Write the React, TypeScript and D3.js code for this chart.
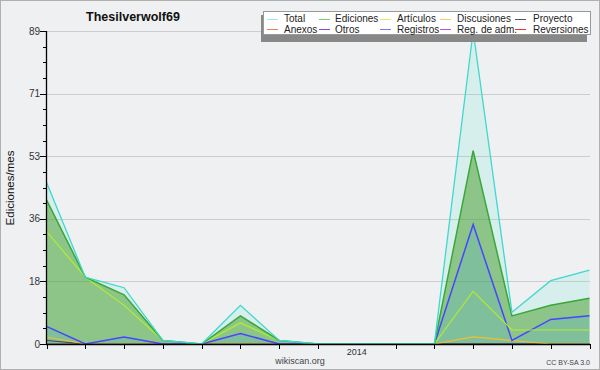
import React from "react";
import * as d3 from "d3";

const months = [
  "2013-05", "2013-06", "2013-07", "2013-08", "2013-09", "2013-10", "2013-11", "2013-12",
  "2014-01", "2014-02", "2014-03", "2014-04", "2014-05", "2014-06", "2014-07",
];
const total = [46, 19, 16, 1, 0, 11, 1, 0, 0, 0, 0, 89, 9, 18, 21];
const ediciones = [41, 19, 14, 1, 0, 8, 1, 0, 0, 0, 0, 55, 8, 11, 13];
const articulos = [32, 19, 11, 1, 0, 6, 1, 0, 0, 0, 0, 15, 4, 4, 4];
const discusiones = [2, 0, 0, 0, 0, 0, 0, 0, 0, 0, 0, 2, 1, 0, 0];
const proyecto = [1, 0, 0, 0, 0, 0, 0, 0, 0, 0, 0, 0, 0, 0, 0];
const anexos = [0, 0, 0, 0, 0, 0, 0, 0, 0, 0, 0, 0, 0, 0, 0];
const otros = [0, 0, 0, 0, 0, 0, 0, 0, 0, 0, 0, 0, 0, 0, 0];
const registros = [5, 0, 2, 0, 0, 3, 0, 0, 0, 0, 0, 34, 1, 7, 8];
const regAdm = [0, 0, 0, 0, 0, 0, 0, 0, 0, 0, 0, 0, 0, 0, 0];
const reversiones = [0, 0, 0, 0, 0, 0, 0, 0, 0, 0, 0, 0, 0, 0, 0];

const yMax = 89;
const yearLabel = "2014";
const yearIndex = 8;

const legendRow1 = [
  { name: "Total", color: "#a6e9e2" },
  { name: "Ediciones", color: "#80c880" },
  { name: "Artículos", color: "#d2f06a" },
  { name: "Discusiones", color: "#f7cb66" },
  { name: "Proyecto", color: "#555555" },
];
const legendRow2 = [
  { name: "Anexos", color: "#f08048" },
  { name: "Otros", color: "#9040e0" },
  { name: "Registros", color: "#7878ff" },
  { name: "Reg. de adm.", color: "#c848ec" },
  { name: "Reversiones", color: "#e03535" },
];
const legendLineX = [267, 319, 380, 440, 515];
const legendTextX = [284, 335, 397, 457, 533];

const FONT = "'Liberation Sans', Arial, sans-serif";

export default function App() {
  const W = 600, H = 370;
  const x = d3.scaleLinear().domain([0, months.length - 1]).range([46.5, 589.5]);
  const y = d3.scaleLinear().domain([0, yMax]).range([344, 31]);
  const idx = months.map((_, i) => i);

  const line = (arr: number[]) =>
    d3.line<number>().x((i) => x(i)).y((i) => y(arr[i]))(idx) || "";
  const area = (arr: number[]) =>
    d3.area<number>().x((i) => x(i)).y0(y(0)).y1((i) => y(arr[i]))(idx) || "";

  const majors = d3.range(0, 6).map((k) => (k * yMax) / 5);
  const minors = d3.range(0, 21).map((k) => (k * yMax) / 20);

  return (
    <svg width={W} height={H} style={{ position: "absolute", left: 0, top: 0 }} fontFamily={FONT}>
      <rect x={0.5} y={0.5} width={W - 1} height={H - 1} fill="#eff0f2" stroke="#b0b0b0" />
      {/* grid */}
      {majors.map((v, k) => (
        <line key={"g" + k} x1={46} x2={590} y1={Math.round(y(v)) + 0.5} y2={Math.round(y(v)) + 0.5} stroke="#cdcdcf" />
      ))}
      {/* areas */}
      <path d={area(total)} fill="#40e0d0" fillOpacity={0.14} />
      <path d={area(ediciones)} fill="#439c25" fillOpacity={0.5} />
      <path d={area(registros)} fill="#40a0ff" fillOpacity={0.16} />
      {/* lines */}
      {[anexos, otros, regAdm, reversiones].map((arr, k) => (
        <path key={"z" + k} d={line(arr)} fill="none" stroke="#888" strokeWidth={1} />
      ))}
      <path d={line(proyecto)} fill="none" stroke="#444" strokeWidth={1} />
      <path d={line(discusiones)} fill="none" stroke="#f0c030" strokeWidth={1.2} />
      <path d={line(registros)} fill="none" stroke="#4646ff" strokeWidth={1.5} />
      <path d={line(articulos)} fill="none" stroke="#b4f028" strokeWidth={1.1} />
      <path d={line(ediciones)} fill="none" stroke="#38a838" strokeWidth={1.5} />
      <path d={line(total)} fill="none" stroke="#40d8cc" strokeWidth={1.3} />
      {/* axes */}
      <line x1={46.5} x2={46.5} y1={31} y2={345} stroke="#000" strokeWidth={1.3} />
      <line x1={46} x2={590} y1={344.5} y2={344.5} stroke="#000" strokeWidth={1.3} />
      {minors.map((v, k) => (
        <line key={"m" + k} x1={43} x2={46} y1={Math.round(y(v)) + 0.5} y2={Math.round(y(v)) + 0.5} stroke="#000" />
      ))}
      {majors.map((v, k) => (
        <g key={"t" + k}>
          <line x1={40} x2={46} y1={Math.round(y(v)) + 0.5} y2={Math.round(y(v)) + 0.5} stroke="#000" />
          <text x={40} y={y(v) + 3.5} textAnchor="end" fontSize={10} fill="#333">
            {Math.round(v)}
          </text>
        </g>
      ))}
      {idx.filter((i) => i !== yearIndex).map((i) => (
        <line key={"x" + i} x1={Math.round(x(i)) + 0.5} x2={Math.round(x(i)) + 0.5} y1={344} y2={349} stroke="#000" />
      ))}
      <text x={x(yearIndex)} y={355} textAnchor="middle" fontSize={9} fill="#333">{yearLabel}</text>
      <text x={300} y={364} textAnchor="middle" fontSize={9} fill="#444">wikiscan.org</text>
      <text x={590} y={365} textAnchor="end" fontSize={7} fill="#444">CC BY-SA 3.0</text>
      {/* titles */}
      <text x={133} y={21} textAnchor="middle" fontSize={12.5} fontWeight="bold" fill="#111">Thesilverwolf69</text>
      <text transform="translate(14,188) rotate(-90)" textAnchor="middle" fontSize={11.5} fill="#111">Ediciones/mes</text>
      {/* legend */}
      <rect x={261} y={15} width={326} height={27} fill="#888" />
      <rect x={263.5} y={11.5} width={327} height={23} fill="#fff" stroke="#999" />
      {[legendRow1, legendRow2].map((row, r) =>
        row.map((it, c) => (
          <g key={"l" + r + "-" + c}>
            <line x1={legendLineX[c]} x2={legendLineX[c] + 11} y1={r === 0 ? 19.5 : 29.5} y2={r === 0 ? 19.5 : 29.5} stroke={it.color} strokeWidth={1} />
            <text x={legendTextX[c]} y={r === 0 ? 22 : 32.5} fontSize={10} fill="#222">{it.name}</text>
          </g>
        ))
      )}
    </svg>
  );
}
